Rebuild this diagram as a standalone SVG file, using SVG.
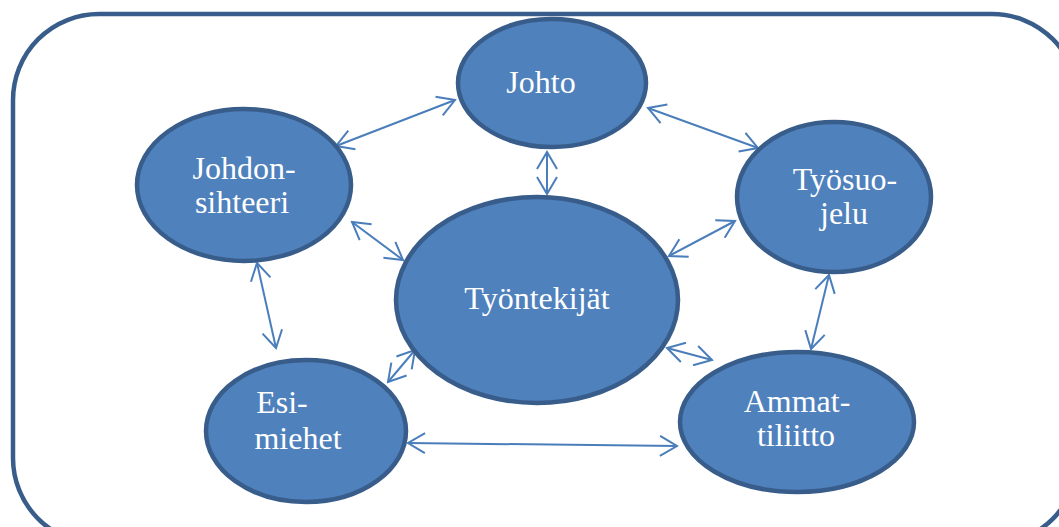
<svg xmlns="http://www.w3.org/2000/svg" width="1059" height="527" viewBox="0 0 1059 527">
<defs>
<style>
.node ellipse{fill:#4f81bd;stroke:#385d8a;stroke-width:4.5}
.node text{font-family:"Liberation Serif","Times New Roman",serif;font-size:32px;fill:#ffffff;text-anchor:middle}
.conn line{stroke:#4a7ebb;stroke-width:2;fill:none;marker-start:url(#ah);marker-end:url(#ah)}
</style>
<marker id="ah" viewBox="0 0 20 22" refX="18" refY="11" markerWidth="20" markerHeight="22" markerUnits="userSpaceOnUse" orient="auto-start-reverse">
<path d="M1,1 L18,11 L1,21" fill="none" stroke="#4a7ebb" stroke-width="2"/>
</marker>
</defs>
<rect x="13" y="14" width="1065" height="530" rx="86" ry="86" fill="#ffffff" stroke="#385d8a" stroke-width="4.5"/>
<g id="connectors" class="conn">
<line x1="336" y1="146" x2="455" y2="100"/>
<line x1="648" y1="108" x2="758" y2="148"/>
<line x1="547" y1="152" x2="547" y2="194"/>
<line x1="352" y1="222" x2="403" y2="260"/>
<line x1="669" y1="256" x2="735" y2="221"/>
<line x1="257" y1="263" x2="276" y2="348"/>
<line x1="829" y1="275" x2="811" y2="349"/>
<line x1="415" y1="350" x2="388" y2="382"/>
<line x1="667" y1="348" x2="712" y2="360"/>
<line x1="408" y1="443" x2="677" y2="446"/>
</g>
<g id="johto" class="node">
<ellipse cx="552" cy="83" rx="94" ry="64"/>
<text x="541" y="93">Johto</text>
</g>
<g id="johdonsihteeri" class="node">
<ellipse cx="244" cy="185" rx="107" ry="76"/>
<text x="244" y="179">Johdon-</text>
<text x="242" y="213">sihteeri</text>
</g>
<g id="tyosuojelu" class="node">
<ellipse cx="834" cy="197" rx="97" ry="75"/>
<text x="845" y="190">Työsuo-</text>
<text x="844" y="224">jelu</text>
</g>
<g id="tyontekijat" class="node">
<ellipse cx="537" cy="300" rx="141" ry="103"/>
<text x="537" y="309">Työntekijät</text>
</g>
<g id="esimiehet" class="node">
<ellipse cx="306" cy="431" rx="100" ry="71"/>
<text x="282" y="413">Esi-</text>
<text x="298" y="449">miehet</text>
</g>
<g id="ammattiliitto" class="node">
<ellipse cx="797" cy="422" rx="117" ry="70"/>
<text x="797" y="412">Ammat-</text>
<text x="796" y="446">tiliitto</text>
</g>
</svg>
